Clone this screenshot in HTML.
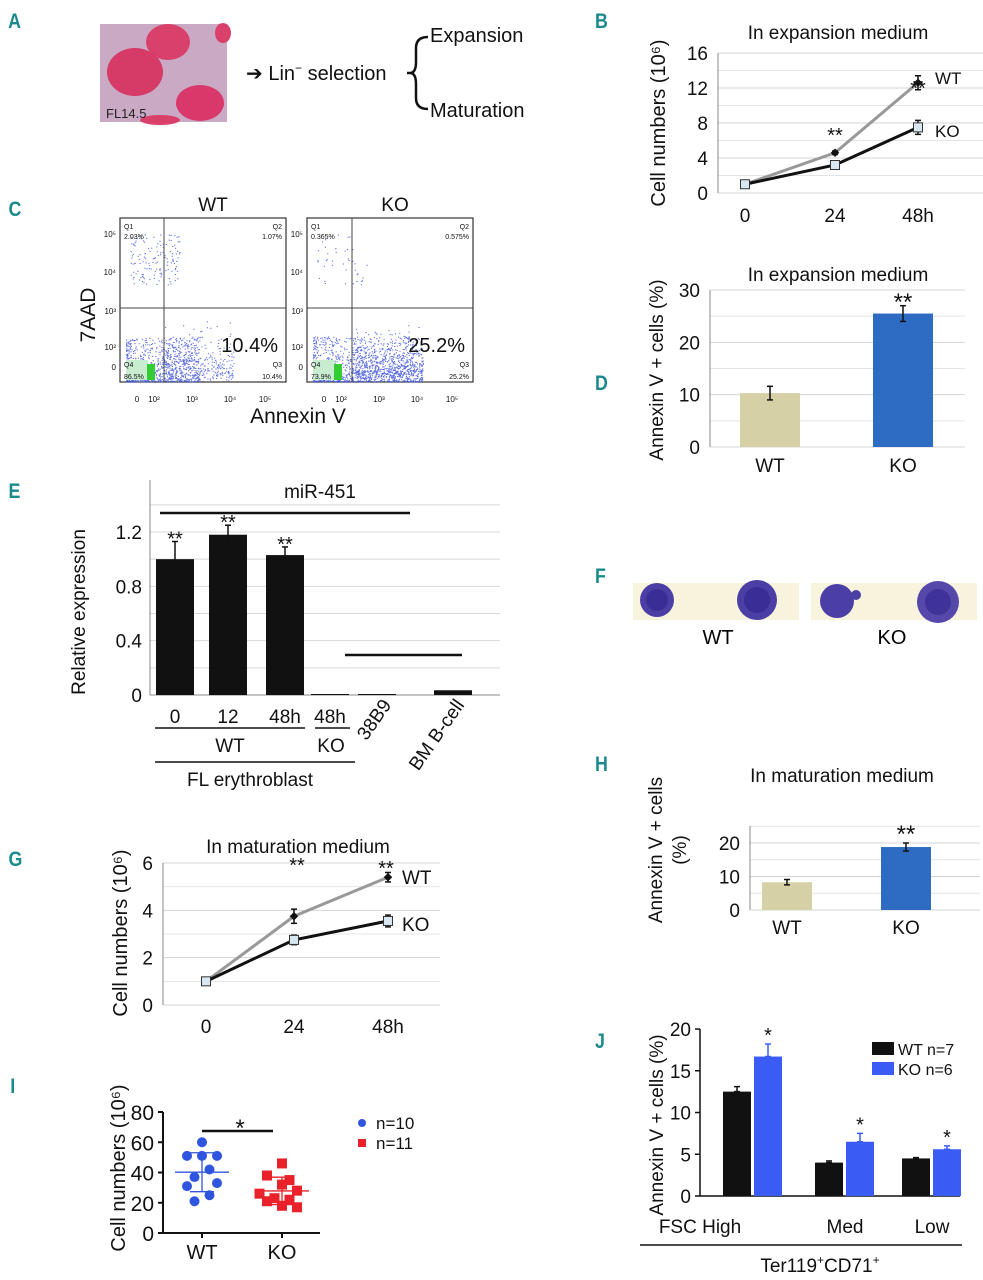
<!DOCTYPE html>
<html><head><meta charset="utf-8"><style>
html,body{margin:0;padding:0;background:#fff;}
svg{display:block;font-family:"Liberation Sans",Arial,sans-serif;}
.pl{font-family:"Liberation Sans",sans-serif;font-weight:bold;fill:#1b8a8c;font-size:21px;}
</style></head><body>
<svg id="fig" width="983" height="1280" viewBox="0 0 983 1280">
<g>
<text class="pl" x="8" y="28" transform="scale(0.85,1) translate(1.5,0)">A</text>
<text class="pl" x="700" y="28" transform="scale(0.85,1)">B</text>
<text class="pl" x="10" y="216" transform="scale(0.85,1)">C</text>
<text class="pl" x="700" y="390" transform="scale(0.85,1)">D</text>
<text class="pl" x="10" y="498" transform="scale(0.85,1)">E</text>
<text class="pl" x="700" y="583" transform="scale(0.85,1)">F</text>
<text class="pl" x="10" y="866" transform="scale(0.85,1)">G</text>
<text class="pl" x="700" y="771" transform="scale(0.85,1)">H</text>
<text class="pl" x="12" y="1093" transform="scale(0.85,1)">I</text>
<text class="pl" x="700" y="1048" transform="scale(0.85,1)">J</text>
</g>
<g>
<rect x="100" y="24" width="127" height="98" fill="#c9a9c4"/>
<ellipse cx="168" cy="42" rx="22" ry="18" fill="#d9406a"/>
<ellipse cx="135" cy="72" rx="28" ry="24" fill="#d63a66"/>
<ellipse cx="200" cy="103" rx="24" ry="18" fill="#d8386a"/>
<ellipse cx="223" cy="33" rx="8" ry="10" fill="#d9406a"/>
<ellipse cx="160" cy="120" rx="20" ry="5" fill="#d9406a"/>
<text x="106" y="118" font-size="13" fill="#222">FL14.5</text>
<text x="246" y="80" font-size="20" fill="#111">➔ Lin<tspan dy="-8" font-size="12">−</tspan><tspan dy="8"> selection</tspan></text>
<path d="M407 73 H414 M428 37 Q416 37 416 48 V62 Q416 73 410 73 Q416 73 416 84 V98 Q416 109 428 109" fill="none" stroke="#111" stroke-width="2.5"/>
<text x="430" y="42" font-size="20" fill="#111">Expansion</text>
<text x="430" y="117" font-size="20" fill="#111">Maturation</text>
</g>
<g>
<rect x="633" y="583" width="166" height="37" fill="#f7f3dc"/>
<rect x="811" y="583" width="166" height="37" fill="#f7f3dc"/>
<circle cx="657" cy="600" r="17" fill="#4b3fa6"/><circle cx="657" cy="600" r="11" fill="#3a2e95"/>
<circle cx="757" cy="600" r="20" fill="#4b3fa6"/><circle cx="757" cy="600" r="13" fill="#3a2e95"/>
<circle cx="837" cy="601" r="17" fill="#4b3fa6"/><circle cx="856" cy="595" r="5" fill="#4b3fa6"/>
<circle cx="938" cy="602" r="21" fill="#5548aa"/><circle cx="938" cy="602" r="13" fill="#3f3399"/>
<text x="718" y="644" font-size="20" text-anchor="middle">WT</text>
<text x="892" y="644" font-size="20" text-anchor="middle">KO</text>
</g>
<g id="dyn"></g>
</svg>
<script>
const bTimes=["0","24","48h"];
const bWT=[1,4.6,12.6];
const bKO=[1,3.2,7.5];
const bWTerr=[0.1,0.2,0.8];
const bKOerr=[0.1,0.3,0.8];
const bTicks=[0,4,8,12,16];

const dCats=["WT","KO"];
const dVals=[10.3,25.5];
const dErr=[1.3,1.5];
const dTicks=[0,10,20,30];

const eCats=["0","12","48h","48h","38B9","BM B-cell"];
const eVals=[1.0,1.18,1.03,0.005,0.003,0.035];
const eErr=[0.13,0.07,0.06,0,0,0.005];
const eTicks=[0,0.4,0.8,1.2];

const gTimes=["0","24","48h"];
const gWT=[1,3.75,5.4];
const gKO=[1,2.75,3.55];
const gWTerr=[0.05,0.3,0.2];
const gKOerr=[0.05,0.2,0.25];
const gTicks=[0,2,4,6];

const hCats=["WT","KO"];
const hVals=[8.3,18.8];
const hErr=[0.8,1.2];
const hTicks=[0,10,20];

const iWT=[60,51,51,51,42,37,31,33,25,21];
const iKO=[46,38,35,32,28,26,23,22,21,18,17];
const iTicks=[0,20,40,60,80];

const jCats=["FSC High","Med","Low"];
const jWT=[12.5,4.0,4.5];
const jKO=[16.7,6.5,5.6];
const jWTerr=[0.6,0.2,0.1];
const jKOerr=[1.5,1.0,0.4];
const jTicks=[0,5,10,15,20];

const NS="http://www.w3.org/2000/svg";
const root=document.getElementById('dyn');
function mk(tag,attrs,name,parent){
  const el=document.createElementNS(NS,tag);
  for(const k in attrs)el.setAttribute(k,attrs[k]);
  
  
  (parent||root).appendChild(el);return el;
}
function txt(x,y,s,size,name,opt){
  opt=opt||{};
  const t=mk('text',Object.assign({x:x,y:y,'font-size':size,'text-anchor':opt.a||'middle',fill:opt.fill||'#111'},opt.extra||{}),name,opt.p);
  t.textContent=s;return t;
}
function line(x1,y1,x2,y2,c,w,name,p){return mk('line',{x1,y1,x2,y2,stroke:c,'stroke-width':w},name,p);}
function lin(d0,d1,r0,r1){return v=>r0+(v-d0)/(d1-d0)*(r1-r0);}
function errbar(x,y1,y2,name,p,c){line(x,y1,x,y2,c||'#111',1.5,name,p);line(x-3,y1,x+3,y1,c||'#111',1.5,name+'-cap',p);line(x-3,y2,x+3,y2,c||'#111',1.5,name+'-cap',p);}
function ylabel(x,y,s,size,name,p){return txt(x,y,s,size,name,{p:p,extra:{transform:`rotate(-90 ${x} ${y})`}});}

// Panel B
(function(){
  const g=mk('g',{},'panel-b');
  const y=lin(0,16,193,53), xs=[745,835,918];
  bTicks.forEach(t=>{line(718,y(t),985,y(t),'#d4d4d4',1,'grid-line',g);txt(708,y(t)+7,t,19,'y-tick-label',{p:g,a:'end'});});
  for(let t=2;t<16;t+=4)line(718,y(t),985,y(t),'#e4e4e4',1,'minor-grid',g);
  line(718,53,718,193,'#888',1,'y-axis',g);
  bTimes.forEach((s,i)=>txt(xs[i],222,s,19,'x-tick-label',{p:g}));
  txt(838,39,'In expansion medium',19,'chart-title',{p:g});
  ylabel(665,123,'Cell numbers (10⁶)',20,'y-axis-title',g);
  mk('polyline',{points:bWT.map((v,i)=>xs[i]+','+y(v)).join(' '),fill:'none',stroke:'#999',"stroke-width":3},'wt-line',g);
  mk('polyline',{points:bKO.map((v,i)=>xs[i]+','+y(v)).join(' '),fill:'none',stroke:'#111',"stroke-width":3},'ko-line',g);
  bWT.forEach((v,i)=>{errbar(xs[i],y(v-bWTerr[i]),y(v+bWTerr[i]),'wt-error',g);mk('rect',{x:xs[i]-3,y:y(v)-3,width:6,height:6,fill:'#111',transform:`rotate(45 ${xs[i]} ${y(v)})`},'wt-point',g);});
  bKO.forEach((v,i)=>{errbar(xs[i],y(v-bKOerr[i]),y(v+bKOerr[i]),'ko-error',g);mk('rect',{x:xs[i]-4.5,y:y(v)-4.5,width:9,height:9,fill:'#d8e8f2',stroke:'#333'},'ko-point',g);});
  txt(835,142,'**',20,'sig-24',{p:g});txt(918,95,'**',20,'sig-48',{p:g});
  txt(935,84,'WT',17,'wt-label',{p:g,a:'start'});txt(935,137,'KO',17,'ko-label',{p:g,a:'start'});
})();

// Panel C
(function(){
  const g=mk('g',{},'panel-c');
  txt(213,211,'WT',19,'wt-title',{p:g});txt(395,211,'KO',19,'ko-title',{p:g});
  ylabel(95,315,'7AAD',21,'y-axis-title',g);
  txt(298,423,'Annexin V',21,'x-axis-title',{p:g});
  let seed=7;function r(){seed=(seed*16807)%2147483647;return seed/2147483647;}
  [[120,164,'2.03%','1.07%','86.5%','10.4%',0.4],[307,352,'0.365%','0.575%','73.9%','25.2%',1]].forEach((p,k)=>{
    const x0=p[0],vx=p[1];
    const b=mk('g',{},k?'ko-flow-plot':'wt-flow-plot',g);
    mk('rect',{x:x0,y:218,width:166,height:164,fill:'#fff',stroke:'#333','stroke-width':1.2},'plot-box',b);
    let s='';
    for(let i=0;i<900;i++){const dx=x0+6+Math.pow(r(),1.5)*(50+60*p[6]),dy=382-Math.pow(r(),2)*45;s+=`M${dx.toFixed(1)} ${dy.toFixed(1)}h1.2`;}
    for(let i=0;i<Math.round(150+450*p[6]);i++){const dx=vx+r()*70,dy=382-r()*55*r()-r()*10;s+=`M${dx.toFixed(1)} ${dy.toFixed(1)}h1.2`;}
    for(let i=0;i<(k?40:140);i++){const dx=x0+10+r()*50,dy=235+r()*50;s+=`M${dx.toFixed(1)} ${dy.toFixed(1)}h1.2`;}
    mk('path',{d:s,stroke:'#3348d8','stroke-width':1,fill:'none',opacity:0.8},'event-dots',b);
    mk('rect',{x:x0+6,y:360,width:22,height:20,fill:'#c8ecd0'},'density-core',b);
    mk('rect',{x:x0+27,y:364,width:8,height:16,fill:'#33cc33'},'density-peak',b);
    line(vx,218,vx,382,'#444',1,'gate-vertical',b);line(x0,308,x0+166,308,'#444',1,'gate-horizontal',b);
    txt(x0+4,229,'Q1',7,'q1',{p:b,a:'start'});txt(x0+4,239,p[2],7,'q1-pct',{p:b,a:'start'});
    txt(x0+162,229,'Q2',7,'q2',{p:b,a:'end'});txt(x0+162,239,p[3],7,'q2-pct',{p:b,a:'end'});
    txt(x0+4,367,'Q4',7,'q4',{p:b,a:'start'});txt(x0+4,379,p[4],7,'q4-pct',{p:b,a:'start'});
    txt(x0+162,367,'Q3',7,'q3',{p:b,a:'end'});txt(x0+162,379,p[5],7,'q3-pct',{p:b,a:'end'});
    txt(x0+158,352,p[5],20,'q3-big-pct',{p:b,a:'end'});
    [['10⁵',237],['10⁴',275],['10³',314],['10²',350],['0',370]].forEach(q=>txt(x0-4,q[1],q[0],8,'y-tick',{p:b,a:'end'}));
    [['0',17],['10²',34],['10³',72],['10⁴',110],['10⁵',145]].forEach(q=>txt(x0+q[1],402,q[0],8,'x-tick',{p:b}));
  });
})();

// Panel D
(function(){
  const g=mk('g',{},'panel-d');
  const y=lin(0,30,447,290), xs=[770,903];
  dTicks.forEach(t=>{line(710,y(t),965,y(t),'#d4d4d4',1,'grid-line',g);txt(700,y(t)+7,t,19,'y-tick-label',{p:g,a:'end'});});
  for(let t=5;t<30;t+=10)line(710,y(t),965,y(t),'#e4e4e4',1,'minor-grid',g);
  line(710,290,710,447,'#888',1,'y-axis',g);
  txt(838,281,'In expansion medium',19,'chart-title',{p:g});
  ylabel(663,370,'Annexin V + cells (%)',19,'y-axis-title',g);
  const cols=['#d6d0a6','#2e6cc4'];
  dVals.forEach((v,i)=>{mk('rect',{x:xs[i]-30,y:y(v),width:60,height:447-y(v),fill:cols[i]},'bar-'+dCats[i].toLowerCase(),g);errbar(xs[i],y(v-dErr[i]),y(v+dErr[i]),'error-bar',g);txt(xs[i],472,dCats[i],19,'x-tick-label',{p:g});});
  txt(903,310,'**',24,'sig-ko',{p:g});
})();

// Panel E
(function(){
  const g=mk('g',{},'panel-e');
  const y=lin(0,1.2,695,532), xs=[175,228,285,330,377,453];
  for(let t=0.2;t<1.5;t+=0.2)line(150,y(t),500,y(t),'#d8d8d8',1,'grid-line',g);
  eTicks.forEach(t=>txt(142,y(t)+7,t,19,'y-tick-label',{p:g,a:'end'}));
  line(150,480,150,695,'#888',1,'y-axis',g);line(150,695,500,695,'#888',1,'x-axis',g);
  txt(320,498,'miR-451',19,'chart-title',{p:g});
  ylabel(85,612,'Relative expression',19,'y-axis-title',g);
  eVals.forEach((v,i)=>{const h=Math.max(695-y(v),1);mk('rect',{x:xs[i]-19,y:695-h,width:38,height:h,fill:'#111'},'bar-'+eCats[i],g);if(eErr[i]>0.01)errbar(xs[i],y(v-eErr[i]),y(v+eErr[i]),'error-bar',g);});
  [0,1,2].forEach(i=>txt(xs[i],y(eVals[i]+eErr[i])+4,'**',20,'sig-star',{p:g}));
  line(160,513,410,513,'#111',2.5,'sig-line-top',g);line(345,655,462,655,'#111',2.5,'sig-line-bottom',g);
  [0,1,2,3].forEach(i=>txt(xs[i],723,eCats[i],19,'x-tick-label',{p:g}));
  txt(392,705,'38B9',19,'x-tick-label',{p:g,a:'end',extra:{transform:'rotate(-55 392 705)'}});
  txt(465,705,'BM B-cell',19,'x-tick-label',{p:g,a:'end',extra:{transform:'rotate(-55 465 705)'}});
  line(155,728,305,728,'#111',1.5,'wt-group-line',g);line(315,728,350,728,'#111',1.5,'ko-group-line',g);
  txt(230,752,'WT',19,'wt-group-label',{p:g});txt(331,752,'KO',19,'ko-group-label',{p:g});
  line(155,762,355,762,'#111',1.5,'fl-group-line',g);txt(250,786,'FL erythroblast',19,'fl-group-label',{p:g});
})();

// Panel G
(function(){
  const g=mk('g',{},'panel-g');
  const y=lin(0,6,1005,863), xs=[206,294,388];
  gTicks.forEach(t=>{line(163,y(t),440,y(t),'#d4d4d4',1,'grid-line',g);txt(153,y(t)+7,t,19,'y-tick-label',{p:g,a:'end'});});
  for(let t=1;t<6;t+=2)line(163,y(t),440,y(t),'#e4e4e4',1,'minor-grid',g);
  line(163,863,163,1005,'#888',1,'y-axis',g);
  gTimes.forEach((s,i)=>txt(xs[i],1033,s,19,'x-tick-label',{p:g}));
  txt(298,853,'In maturation medium',19,'chart-title',{p:g});
  ylabel(127,933,'Cell numbers (10⁶)',20,'y-axis-title',g);
  mk('polyline',{points:gWT.map((v,i)=>xs[i]+','+y(v)).join(' '),fill:'none',stroke:'#999',"stroke-width":3},'wt-line',g);
  mk('polyline',{points:gKO.map((v,i)=>xs[i]+','+y(v)).join(' '),fill:'none',stroke:'#111',"stroke-width":3},'ko-line',g);
  gWT.forEach((v,i)=>{errbar(xs[i],y(v-gWTerr[i]),y(v+gWTerr[i]),'wt-error',g);mk('rect',{x:xs[i]-3,y:y(v)-3,width:6,height:6,fill:'#111',transform:`rotate(45 ${xs[i]} ${y(v)})`},'wt-point',g);});
  gKO.forEach((v,i)=>{errbar(xs[i],y(v-gKOerr[i]),y(v+gKOerr[i]),'ko-error',g);mk('rect',{x:xs[i]-4.5,y:y(v)-4.5,width:9,height:9,fill:'#d8e8f2',stroke:'#333'},'ko-point',g);});
  txt(297,872,'**',20,'sig-24',{p:g});txt(386,875,'**',20,'sig-48',{p:g});
  txt(402,884,'WT',19,'wt-label',{p:g,a:'start'});txt(402,931,'KO',19,'ko-label',{p:g,a:'start'});
})();

// Panel H
(function(){
  const g=mk('g',{},'panel-h');
  const y=lin(0,20,910,843), xs=[787,906];
  hTicks.forEach(t=>{line(750,y(t),980,y(t),'#d4d4d4',1,'grid-line',g);txt(740,y(t)+7,t,19,'y-tick-label',{p:g,a:'end'});});
  line(750,y(5),980,y(5),'#e4e4e4',1,'minor-grid',g);line(750,y(15),980,y(15),'#e4e4e4',1,'minor-grid',g);line(750,y(25),980,y(25),'#e4e4e4',1,'minor-grid',g);
  line(750,826,750,910,'#888',1,'y-axis',g);
  txt(842,782,'In maturation medium',19,'chart-title',{p:g});
  ylabel(662,850,'Annexin V + cells',19,'y-axis-title',g);ylabel(686,850,'(%)',19,'y-axis-title-unit',g);
  const cols=['#d6d0a6','#2e6cc4'];
  hVals.forEach((v,i)=>{mk('rect',{x:xs[i]-25,y:y(v),width:50,height:910-y(v),fill:cols[i]},'bar-'+hCats[i].toLowerCase(),g);errbar(xs[i],y(v-hErr[i]),y(v+hErr[i]),'error-bar',g);txt(xs[i],934,hCats[i],19,'x-tick-label',{p:g});});
  txt(906,842,'**',24,'sig-ko',{p:g});
})();

// Panel I
(function(){
  const g=mk('g',{},'panel-i');
  const y=lin(0,80,1233,1112), xs=[202,282];
  line(163,1112,163,1233,'#111',2,'y-axis',g);line(163,1233,320,1233,'#111',2,'x-axis',g);
  iTicks.forEach(t=>{line(158,y(t),163,y(t),'#111',2,'y-tick',g);txt(154,y(t)+8,t,21,'y-tick-label',{p:g,a:'end'});});
  ["WT","KO"].forEach((s,i)=>{line(xs[i],1233,xs[i],1238,'#111',2,'x-tick',g);txt(xs[i],1259,s,20,'x-tick-label',{p:g});});
  ylabel(125,1168,'Cell numbers (10⁶)',20,'y-axis-title',g);
  const offW=[0,-10,0,10,5,-5,-10,10,5,-5].map(v=>v*1.5), offK=[0,-10,5,0,10,-15,-5,5,-10,0,10].map(v=>v*1.5);
  function stats(a){const m=a.reduce((s,v)=>s+v,0)/a.length;const sd=Math.sqrt(a.reduce((s,v)=>s+(v-m)*(v-m),0)/(a.length-1));return [m,sd];}
  [[iWT,offW,'#2f55e0','wt'],[iKO,offK,'#e8212a','ko']].forEach((d,k)=>{
    const [m,sd]=stats(d[0]);const x=xs[k];
    line(x-27,y(m),x+27,y(m),d[2],1.3,d[3]+'-mean',g);line(x,y(m-sd),x,y(m+sd),d[2],1.3,d[3]+'-sd',g);
    line(x-12,y(m-sd),x+12,y(m-sd),d[2],1.3,d[3]+'-sd-cap',g);line(x-12,y(m+sd),x+12,y(m+sd),d[2],1.3,d[3]+'-sd-cap',g);
    d[0].forEach((v,i)=>{if(k===0)mk('circle',{cx:x+d[1][i],cy:y(v),r:5,fill:d[2]},'wt-point',g);else mk('rect',{x:x+d[1][i]-5,y:y(v)-5,width:10,height:10,fill:d[2]},'ko-point',g);});
  });
  line(202,1131,273,1131,'#111',2.5,'sig-line',g);txt(240,1136,'*',24,'sig-star',{p:g});
  mk('circle',{cx:362,cy:1123,r:4,fill:'#2f55e0'},'legend-wt-marker',g);txt(376,1129,'n=10',17,'legend-wt',{p:g,a:'start'});
  mk('rect',{x:358,y:1139,width:8,height:8,fill:'#e8212a'},'legend-ko-marker',g);txt(376,1149,'n=11',17,'legend-ko',{p:g,a:'start'});
})();

// Panel J
(function(){
  const g=mk('g',{},'panel-j');
  const y=lin(0,20,1196,1029), xc=[753,845,932];
  line(700,1029,700,1196,'#111',1.5,'y-axis',g);line(700,1196,960,1196,'#111',1.5,'x-axis',g);
  jTicks.forEach(t=>{line(695,y(t),700,y(t),'#111',1.5,'y-tick',g);txt(691,y(t)+7,t,19,'y-tick-label',{p:g,a:'end'});});
  ylabel(663,1125,'Annexin V + cells (%)',19,'y-axis-title',g);
  jCats.forEach((c,i)=>{
    const x1=xc[i]-30,x2=xc[i]+1;
    mk('rect',{x:x1,y:y(jWT[i]),width:28,height:1196-y(jWT[i]),fill:'#111'},'bar-wt-'+i,g);
    mk('rect',{x:x2,y:y(jKO[i]),width:28,height:1196-y(jKO[i]),fill:'#3a5cf5'},'bar-ko-'+i,g);
    errbar(x1+14,y(jWT[i]),y(jWT[i]+jWTerr[i]),'wt-error',g);
    errbar(x2+14,y(jKO[i]),y(jKO[i]+jKOerr[i]),'ko-error',g,'#3a5cf5');
    txt(x2+14,y(jKO[i]+jKOerr[i])-2,'*',20,'sig-star',{p:g});
    txt(i===0?700:xc[i],1233,c,19,'x-tick-label',{p:g});
  });
  mk('rect',{x:872,y:1042,width:22,height:13,fill:'#111'},'legend-wt-swatch',g);txt(898,1055,'WT n=7',16,'legend-wt',{p:g,a:'start'});
  mk('rect',{x:872,y:1062,width:22,height:13,fill:'#3a5cf5'},'legend-ko-swatch',g);txt(898,1075,'KO n=6',16,'legend-ko',{p:g,a:'start'});
  line(640,1245,962,1245,'#111',1.5,'group-line',g);
  const t=txt(820,1272,'',19,'group-label',{p:g});
  t.innerHTML='Ter119<tspan dy="-8" font-size="12">+</tspan><tspan dy="8">CD71</tspan><tspan dy="-8" font-size="12">+</tspan>';
})();
</script>
</body></html>
